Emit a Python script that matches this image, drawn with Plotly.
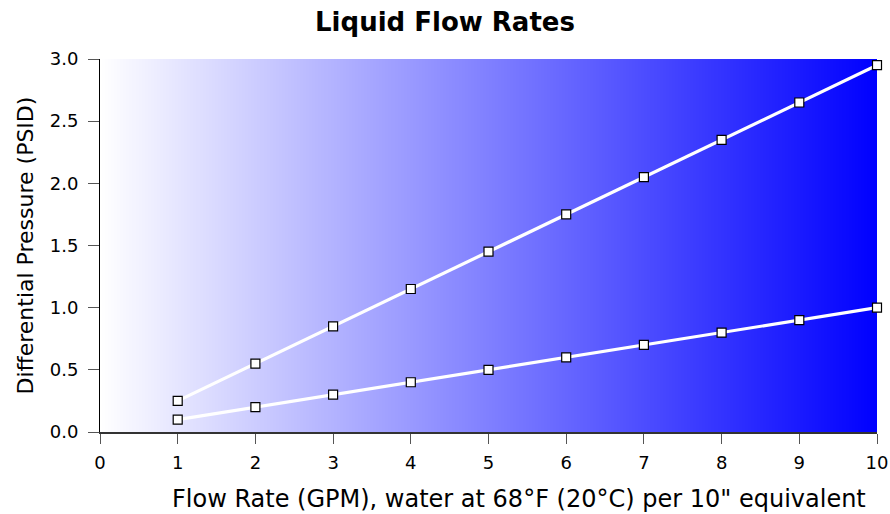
import plotly.graph_objects as go

flow_gpm = [1, 2, 3, 4, 5, 6, 7, 8, 9, 10]
series_high = [0.25, 0.55, 0.85, 1.15, 1.45, 1.75, 2.05, 2.35, 2.65, 2.95]
series_low = [0.1, 0.2, 0.3, 0.4, 0.5, 0.6, 0.7, 0.8, 0.9, 1.0]
x_ticks = [0, 1, 2, 3, 4, 5, 6, 7, 8, 9, 10]
y_ticks = [0.0, 0.5, 1.0, 1.5, 2.0, 2.5, 3.0]

W, H = 890, 514
L, R, T, B = 100, 13, 59, 82

fig = go.Figure()

# gradient background
fig.add_trace(go.Heatmap(
    x=[0, 10], y=[0, 3], z=[[0, 1], [0, 1]],
    colorscale=[[0, "#ffffff"], [1, "#0000ff"]],
    zsmooth="best", showscale=False, hoverinfo="skip",
))

for ys in (series_high, series_low):
    fig.add_trace(go.Scatter(
        x=flow_gpm, y=ys, mode="lines+markers",
        line=dict(color="white", width=3.2),
        marker=dict(symbol="square", size=9, color="white",
                    line=dict(color="black", width=1.2)),
        showlegend=False, cliponaxis=False,
    ))

pw, ph = W - L - R, H - T - B
fig.add_annotation(text="Flow Rate (GPM), water at 68°F (20°C) per 10\" equivalent",
                   xref="paper", yref="paper", x=(519 - L) / pw, y=-(499 - (H - B)) / ph,
                   xanchor="center", yanchor="middle", showarrow=False,
                   font=dict(size=24))
fig.add_annotation(text="Differential Pressure (PSID)", textangle=-90,
                   xref="paper", yref="paper", x=-(L - 25) / pw, y=0.5,
                   xanchor="center", yanchor="middle", showarrow=False,
                   font=dict(size=22))

fig.update_layout(
    width=W, height=H,
    margin=dict(l=L, r=R, t=T, b=B, autoexpand=False),
    paper_bgcolor="white", plot_bgcolor="white",
    font=dict(family="DejaVu Sans", color="black", size=18),
    title=dict(text="<b>Liquid Flow Rates</b>", x=0.5, xanchor="center",
               y=1 - 22 / H, yanchor="middle", font=dict(size=26)),
    xaxis=dict(range=[0, 10], tickvals=x_ticks, ticks="outside", ticklen=10,
               tickcolor="#555555", showline=True, linecolor="#333333", linewidth=2,
               showgrid=False, zeroline=False, automargin=False,
               ticklabelstandoff=3),
    yaxis=dict(range=[0, 3], tickvals=y_ticks, tickformat=".1f", ticks="outside",
               ticklen=11, tickcolor="#555555", showline=True, linecolor="black",
               linewidth=1, showgrid=False, zeroline=False, automargin=False,
               ticklabelstandoff=6),
)

fig.write_html("out.html", config={"displayModeBar": False},
               post_script="document.body.style.margin='0';")
